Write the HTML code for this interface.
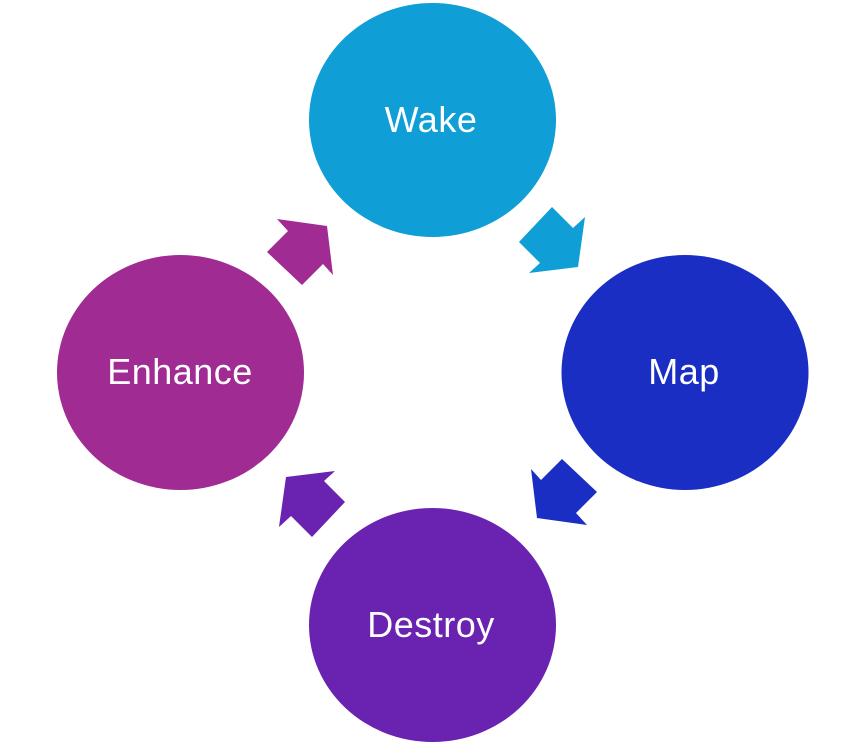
<!DOCTYPE html>
<html><head><meta charset="utf-8"><style>
html,body{margin:0;padding:0;background:#fff;}
svg{display:block;}
text{font-family:"Liberation Sans",sans-serif;font-size:36px;fill:#fff;text-anchor:middle;letter-spacing:0.5px;}
</style></head><body>
<svg width="864" height="747" viewBox="0 0 864 747">
<defs>
<polygon id="arr" points="552,207 573,228 585,217 578,267 529,273 540,263 519,242"/>
</defs>
<ellipse cx="432.5" cy="120" rx="123.5" ry="117" fill="#0F9ED5"/>
<ellipse cx="685" cy="372.5" rx="123.5" ry="117.5" fill="#1A2EC4"/>
<ellipse cx="432.5" cy="625" rx="123.5" ry="117" fill="#6A22B0"/>
<ellipse cx="180.5" cy="372.5" rx="123.5" ry="117.5" fill="#A02B93"/>
<use href="#arr" fill="#0F9ED5"/>
<use href="#arr" fill="#1A2EC4" transform="rotate(90 432 372)"/>
<use href="#arr" fill="#6A22B0" transform="rotate(180 432 372)"/>
<use href="#arr" fill="#A02B93" transform="rotate(270 432 372)"/>
<text x="431" y="132">Wake</text>
<text x="684" y="384">Map</text>
<text x="431" y="637">Destroy</text>
<text x="180" y="384">Enhance</text>
</svg>
</body></html>
